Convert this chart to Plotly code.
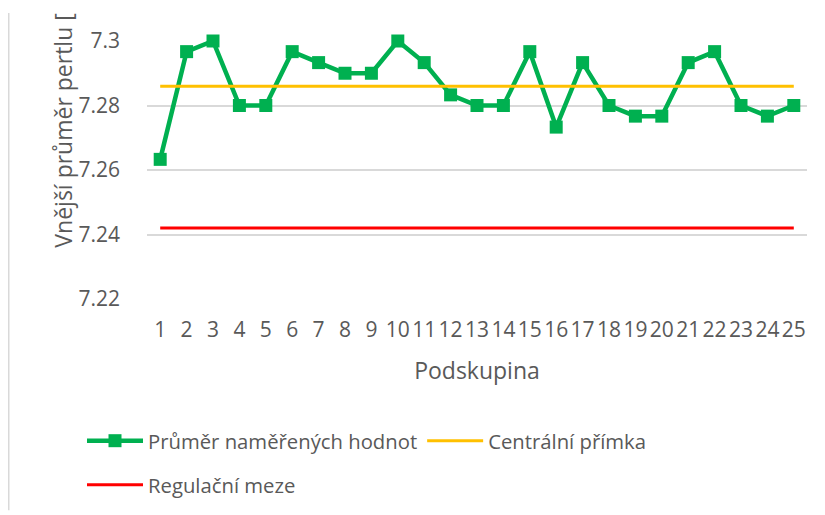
import plotly.graph_objects as go

subgroups = [str(i) for i in range(1, 26)]
means = [7.2633, 7.2967, 7.3000, 7.2800, 7.2800, 7.2967, 7.2933, 7.2900, 7.2900, 7.3000,
         7.2933, 7.2833, 7.2800, 7.2800, 7.2967, 7.2733, 7.2933, 7.2800, 7.2767, 7.2767,
         7.2933, 7.2967, 7.2800, 7.2767, 7.2800]
center_line = [7.286] * 25
control_limit = [7.242] * 25
y_ticks = [7.22, 7.24, 7.26, 7.28, 7.30]
y_tick_labels = ["7.22", "7.24", "7.26", "7.28", "7.3"]

# page offset of the plot div (default body margin)
OFF = 8
W, H = 825 - OFF, 515 - OFF
# plot area in page pixels: x 147..807, y 41..300
L, R, T, B = 147 - OFF, W - (807 - OFF), 41 - OFF, H - (300 - OFF)
pw, ph = W - L - R, H - T - B
def px_x(p): return (p - OFF - L) / pw
def px_y(p): return (H - B - (p - OFF)) / ph

FONT = "Open Sans"
GRAY = "#595959"
LEG = 20.3

fig = go.Figure()
fig.add_trace(go.Scatter(
    x=subgroups, y=means, mode="lines+markers", name="Průměr naměřených hodnot",
    line=dict(color="#00B050", width=4.5),
    marker=dict(symbol="square", size=13, color="#00B050"),
    cliponaxis=False, legend="legend"))
fig.add_trace(go.Scatter(
    x=subgroups, y=center_line, mode="lines", name="Centrální přímka",
    line=dict(color="#FFC000", width=3), legend="legend"))
fig.add_trace(go.Scatter(
    x=subgroups, y=control_limit, mode="lines", name="Regulační meze",
    line=dict(color="#FF0000", width=3), legend="legend2"))

fig.update_layout(
    width=W, height=H,
    margin=dict(l=L, r=R, t=T, b=B, pad=0),
    paper_bgcolor="white", plot_bgcolor="white",
    font=dict(family=FONT, color=GRAY, size=21),
    xaxis=dict(type="category", range=[-0.5, 24.5], showgrid=False, showline=False,
               zeroline=False, ticks="", tickfont=dict(size=21, color=GRAY),
               ticklabelstandoff=16,
               title=dict(text="Podskupina", font=dict(size=23, color=GRAY), standoff=20)),
    yaxis=dict(range=[7.22, 7.30], tickvals=y_ticks, ticktext=y_tick_labels,
               showgrid=True, gridcolor="#D9D9D9", gridwidth=1.5, zeroline=False,
               showline=False, ticks="", tickfont=dict(size=21, color=GRAY),
               ticklabelstandoff=26),
    legend=dict(orientation="h", x=px_x(82), xanchor="left", y=px_y(441), yanchor="middle",
                font=dict(size=LEG, color=GRAY), itemwidth=56, bgcolor="rgba(0,0,0,0)"),
    legend2=dict(orientation="h", x=px_x(82), xanchor="left", y=px_y(485), yanchor="middle",
                 font=dict(size=LEG, color=GRAY), itemwidth=56, bgcolor="rgba(0,0,0,0)"),
    showlegend=True,
)

fig.add_annotation(
    text="Vnější průměr pertlu [", textangle=-90,
    xref="paper", yref="paper", x=px_x(63), y=px_y(131),
    xanchor="center", yanchor="middle", showarrow=False,
    font=dict(size=23, color=GRAY, family=FONT))

fig.add_shape(type="line", xref="paper", yref="paper",
              x0=px_x(8.75), x1=px_x(8.75), y0=px_y(512), y1=px_y(13),
              line=dict(color="#D9D9D9", width=1.5))

fig.write_html("out.html")
